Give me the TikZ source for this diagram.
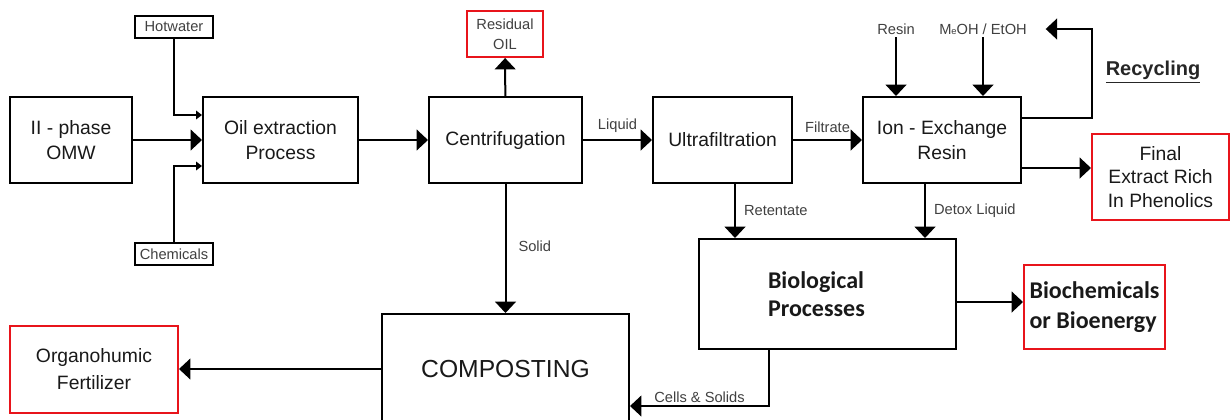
\documentclass[tikz,border=0pt]{standalone}
\usepackage{fontspec}
\setmainfont{Liberation Sans}
\newfontfamily\calibrifont{Carlito}
\usepackage{tikz}
\usetikzlibrary{arrows.meta,positioning,calc}
\definecolor{labelgray}{HTML}{404040}
\definecolor{boxred}{HTML}{E8141B}

\begin{document}
\begin{tikzpicture}[x=0.75pt,y=-0.75pt,
  stage/.style={draw,line width=1.5pt,inner sep=0pt,minimum height=64.5pt,align=center,text=black!90,font=\fontsize{14.5}{18.5}\selectfont},
  product/.style={stage,draw=boxred},
  feed/.style={draw,line width=1.1pt,inner sep=0pt,minimum width=58.5pt,minimum height=16.5pt,text=labelgray,font=\fontsize{11}{13}\selectfont},
  tag/.style={text=labelgray,font=\fontsize{11}{13}\selectfont,inner sep=2pt},
  flow/.style={line width=1.5pt,-{Triangle[length=8.5pt,width=15.5pt]}},
  thinflow/.style={line width=1.4pt,-{Triangle[length=4.5pt,width=6.5pt]}}]
\useasboundingbox (0,0) rectangle (1230,419);
% main line of stages
\node[stage,minimum width=91.5pt] (omw) at (71,140) {II - phase\\OMW};
\node[stage,minimum width=116.25pt] (oil) at (280.5,140) {Oil extraction\\Process};
\node[stage,minimum width=114.75pt] (centri) at (505.5,140) {Centrifugation};
\node[stage,minimum width=104.25pt] (ultra) at (722.5,140) {Ultrafiltration};
\node[stage,minimum width=118.5pt] (ion) at (942,140) {Ion - Exchange\\Resin};
\node[feed] (hot) at (174,27) {Hotwater};
\node[feed] (chem) at (174,254) {Chemicals};
\node[product,minimum width=57pt,minimum height=34.5pt,text=labelgray,font=\fontsize{11}{15}\selectfont] (resoil) at (505,34) {Residual\\OIL};
\node[product,minimum width=102.75pt,font=\fontsize{14.5}{17.6}\selectfont] (final) at (1160.5,177) {Final\\Extract Rich\\In Phenolics};
\node[stage,minimum height=82.5pt,inner xsep=51.75pt,text width=89.25pt,align=left,font=\calibrifont\bfseries\fontsize{18}{21}\selectfont] (bio) at (827.5,294) {Biological\\Processes};
\node[product,minimum width=105.75pt,minimum height=63pt,align=left,font=\calibrifont\bfseries\fontsize{18}{22.5}\selectfont] (bioch) at (1094.5,307) {Biochemicals\\or Bioenergy};
\node[stage,minimum width=185.25pt,minimum height=82.5pt,font=\fontsize{18.5}{22}\selectfont] (comp) at (505.5,369) {COMPOSTING};
\node[product,minimum width=126pt,minimum height=65.25pt,font=\fontsize{14.5}{20}\selectfont] (organo) at (94,369) {Organohumic\\Fertilizer};
\node[tag] (resin) at (896,29) {Resin};
\node[tag] (meoh) at (983,29) {M{\fontsize{7}{8}\selectfont e}OH / EtOH};
\node[font=\bfseries\fontsize{15}{18}\selectfont,text=black!85] (recyc) at (1153,72) {\underline{Recycling}};

\draw[flow] (omw) -- (oil);
\draw[thinflow] (hot) |- ($(oil.west)+(0,-25)$);
\draw[thinflow] (chem) |- ($(oil.west)+(0,26)$);
\draw[flow] (oil) -- (centri);
\draw[flow] (centri) -- (resoil);
\draw[flow] (centri) -- node[tag,above,yshift=3pt] {Liquid} (ultra);
\draw[flow] (ultra) -- node[tag,above,yshift=3pt] {Filtrate} (ion);
\draw[flow] (resin) -- (resin |- ion.north);
\draw[flow] (meoh) -- (meoh |- ion.north);
\coordinate (rec) at (1092,29);
\draw[flow] ($(ion.east)+(0,-22)$) -| (rec) -- ($(meoh.east)+(16,0)$);
\draw[flow] ($(ion.east)+(0,28)$) coordinate (fx) -- (fx -| final.west);
\draw[flow] ($(ultra.south)+(12.5,0)$) coordinate (rt) -- node[tag,right,xshift=4pt] {Retentate} (rt |- bio.north);
\draw[flow] ($(ion.south)+(-17,0)$) coordinate (dt) -- node[tag,right,xshift=4pt] {Detox Liquid} (dt |- bio.north);
\draw[flow] (centri) -- node[tag,right,xshift=7pt,yshift=2pt] {Solid} (comp);
\draw[flow] (comp) -- (organo);
\draw[flow] ($(bio.east)+(0,8)$) coordinate (bx) -- (bx -| bioch.west);
\draw[flow] ($(bio.south)+(-58.5,0)$) |- node[tag,pos=0.75,above] {Cells \& Solids} ($(comp.east)+(0,37)$);
\end{tikzpicture}
\end{document}
